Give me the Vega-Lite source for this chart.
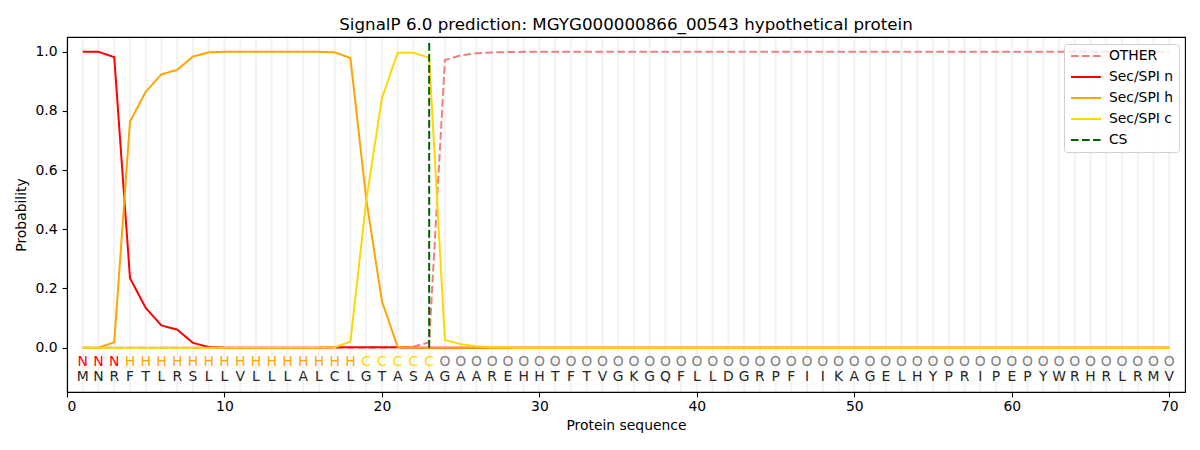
{
  "$schema": "https://vega.github.io/schema/vega-lite/v6.json",
  "autosize": "none",
  "width": 1118,
  "height": 355,
  "padding": {"left": 67, "top": 37, "right": 15, "bottom": 58},
  "background": "white",
  "title": {
    "text": "SignalP 6.0 prediction: MGYG000000866_00543 hypothetical protein",
    "font": "DejaVu Sans",
    "fontSize": 16.7,
    "fontWeight": "normal",
    "color": "black",
    "anchor": "middle",
    "offset": 3
  },
  "data": {
    "values": [
      {"pos": 1, "aa": "M", "lab": "N", "OTHER": 0, "Sec/SPI n": 1.0, "Sec/SPI h": 0, "Sec/SPI c": 0},
      {"pos": 2, "aa": "N", "lab": "N", "OTHER": 0, "Sec/SPI n": 1.0, "Sec/SPI h": 0, "Sec/SPI c": 0},
      {"pos": 3, "aa": "R", "lab": "N", "OTHER": 0, "Sec/SPI n": 0.982, "Sec/SPI h": 0.018, "Sec/SPI c": 0},
      {"pos": 4, "aa": "F", "lab": "H", "OTHER": 0, "Sec/SPI n": 0.235, "Sec/SPI h": 0.764, "Sec/SPI c": 0},
      {"pos": 5, "aa": "T", "lab": "H", "OTHER": 0, "Sec/SPI n": 0.134, "Sec/SPI h": 0.865, "Sec/SPI c": 0},
      {"pos": 6, "aa": "L", "lab": "H", "OTHER": 0, "Sec/SPI n": 0.075, "Sec/SPI h": 0.924, "Sec/SPI c": 0},
      {"pos": 7, "aa": "R", "lab": "H", "OTHER": 0, "Sec/SPI n": 0.061, "Sec/SPI h": 0.939, "Sec/SPI c": 0},
      {"pos": 8, "aa": "S", "lab": "H", "OTHER": 0, "Sec/SPI n": 0.016, "Sec/SPI h": 0.984, "Sec/SPI c": 0},
      {"pos": 9, "aa": "L", "lab": "H", "OTHER": 0, "Sec/SPI n": 0.002, "Sec/SPI h": 0.998, "Sec/SPI c": 0},
      {"pos": 10, "aa": "L", "lab": "H", "OTHER": 0, "Sec/SPI n": 0, "Sec/SPI h": 1.0, "Sec/SPI c": 0},
      {"pos": 11, "aa": "V", "lab": "H", "OTHER": 0, "Sec/SPI n": 0, "Sec/SPI h": 1.0, "Sec/SPI c": 0},
      {"pos": 12, "aa": "L", "lab": "H", "OTHER": 0, "Sec/SPI n": 0, "Sec/SPI h": 1.0, "Sec/SPI c": 0},
      {"pos": 13, "aa": "L", "lab": "H", "OTHER": 0, "Sec/SPI n": 0, "Sec/SPI h": 1.0, "Sec/SPI c": 0},
      {"pos": 14, "aa": "L", "lab": "H", "OTHER": 0, "Sec/SPI n": 0, "Sec/SPI h": 1.0, "Sec/SPI c": 0},
      {"pos": 15, "aa": "A", "lab": "H", "OTHER": 0, "Sec/SPI n": 0, "Sec/SPI h": 1.0, "Sec/SPI c": 0},
      {"pos": 16, "aa": "L", "lab": "H", "OTHER": 0, "Sec/SPI n": 0, "Sec/SPI h": 1.0, "Sec/SPI c": 0},
      {"pos": 17, "aa": "C", "lab": "H", "OTHER": 0, "Sec/SPI n": 0.001, "Sec/SPI h": 0.998, "Sec/SPI c": 0.001},
      {"pos": 18, "aa": "L", "lab": "H", "OTHER": 0, "Sec/SPI n": 0.001, "Sec/SPI h": 0.979, "Sec/SPI c": 0.02},
      {"pos": 19, "aa": "G", "lab": "C", "OTHER": 0, "Sec/SPI n": 0.001, "Sec/SPI h": 0.503, "Sec/SPI c": 0.495},
      {"pos": 20, "aa": "T", "lab": "C", "OTHER": 0, "Sec/SPI n": 0.001, "Sec/SPI h": 0.157, "Sec/SPI c": 0.843},
      {"pos": 21, "aa": "A", "lab": "C", "OTHER": 0.001, "Sec/SPI n": 0.001, "Sec/SPI h": 0.002, "Sec/SPI c": 0.997},
      {"pos": 22, "aa": "S", "lab": "C", "OTHER": 0.003, "Sec/SPI n": 0, "Sec/SPI h": 0, "Sec/SPI c": 0.997},
      {"pos": 23, "aa": "A", "lab": "C", "OTHER": 0.018, "Sec/SPI n": 0, "Sec/SPI h": 0, "Sec/SPI c": 0.98},
      {"pos": 24, "aa": "G", "lab": "O", "OTHER": 0.972, "Sec/SPI n": 0, "Sec/SPI h": 0, "Sec/SPI c": 0.026},
      {"pos": 25, "aa": "A", "lab": "O", "OTHER": 0.988, "Sec/SPI n": 0, "Sec/SPI h": 0, "Sec/SPI c": 0.012},
      {"pos": 26, "aa": "A", "lab": "O", "OTHER": 0.995, "Sec/SPI n": 0, "Sec/SPI h": 0, "Sec/SPI c": 0.004},
      {"pos": 27, "aa": "R", "lab": "O", "OTHER": 0.998, "Sec/SPI n": 0, "Sec/SPI h": 0, "Sec/SPI c": 0.001},
      {"pos": 28, "aa": "E", "lab": "O", "OTHER": 0.999, "Sec/SPI n": 0, "Sec/SPI h": 0, "Sec/SPI c": 0},
      {"pos": 29, "aa": "H", "lab": "O", "OTHER": 1.0, "Sec/SPI n": 0, "Sec/SPI h": 0, "Sec/SPI c": 0},
      {"pos": 30, "aa": "H", "lab": "O", "OTHER": 1.0, "Sec/SPI n": 0, "Sec/SPI h": 0, "Sec/SPI c": 0},
      {"pos": 31, "aa": "T", "lab": "O", "OTHER": 1.0, "Sec/SPI n": 0, "Sec/SPI h": 0, "Sec/SPI c": 0},
      {"pos": 32, "aa": "F", "lab": "O", "OTHER": 1.0, "Sec/SPI n": 0, "Sec/SPI h": 0, "Sec/SPI c": 0},
      {"pos": 33, "aa": "T", "lab": "O", "OTHER": 1.0, "Sec/SPI n": 0, "Sec/SPI h": 0, "Sec/SPI c": 0},
      {"pos": 34, "aa": "V", "lab": "O", "OTHER": 1.0, "Sec/SPI n": 0, "Sec/SPI h": 0, "Sec/SPI c": 0},
      {"pos": 35, "aa": "G", "lab": "O", "OTHER": 1.0, "Sec/SPI n": 0, "Sec/SPI h": 0, "Sec/SPI c": 0},
      {"pos": 36, "aa": "K", "lab": "O", "OTHER": 1.0, "Sec/SPI n": 0, "Sec/SPI h": 0, "Sec/SPI c": 0},
      {"pos": 37, "aa": "G", "lab": "O", "OTHER": 1.0, "Sec/SPI n": 0, "Sec/SPI h": 0, "Sec/SPI c": 0},
      {"pos": 38, "aa": "Q", "lab": "O", "OTHER": 1.0, "Sec/SPI n": 0, "Sec/SPI h": 0, "Sec/SPI c": 0},
      {"pos": 39, "aa": "F", "lab": "O", "OTHER": 1.0, "Sec/SPI n": 0, "Sec/SPI h": 0, "Sec/SPI c": 0},
      {"pos": 40, "aa": "L", "lab": "O", "OTHER": 1.0, "Sec/SPI n": 0, "Sec/SPI h": 0, "Sec/SPI c": 0},
      {"pos": 41, "aa": "L", "lab": "O", "OTHER": 1.0, "Sec/SPI n": 0, "Sec/SPI h": 0, "Sec/SPI c": 0},
      {"pos": 42, "aa": "D", "lab": "O", "OTHER": 1.0, "Sec/SPI n": 0, "Sec/SPI h": 0, "Sec/SPI c": 0},
      {"pos": 43, "aa": "G", "lab": "O", "OTHER": 1.0, "Sec/SPI n": 0, "Sec/SPI h": 0, "Sec/SPI c": 0},
      {"pos": 44, "aa": "R", "lab": "O", "OTHER": 1.0, "Sec/SPI n": 0, "Sec/SPI h": 0, "Sec/SPI c": 0},
      {"pos": 45, "aa": "P", "lab": "O", "OTHER": 1.0, "Sec/SPI n": 0, "Sec/SPI h": 0, "Sec/SPI c": 0},
      {"pos": 46, "aa": "F", "lab": "O", "OTHER": 1.0, "Sec/SPI n": 0, "Sec/SPI h": 0, "Sec/SPI c": 0},
      {"pos": 47, "aa": "I", "lab": "O", "OTHER": 1.0, "Sec/SPI n": 0, "Sec/SPI h": 0, "Sec/SPI c": 0},
      {"pos": 48, "aa": "I", "lab": "O", "OTHER": 1.0, "Sec/SPI n": 0, "Sec/SPI h": 0, "Sec/SPI c": 0},
      {"pos": 49, "aa": "K", "lab": "O", "OTHER": 1.0, "Sec/SPI n": 0, "Sec/SPI h": 0, "Sec/SPI c": 0},
      {"pos": 50, "aa": "A", "lab": "O", "OTHER": 1.0, "Sec/SPI n": 0, "Sec/SPI h": 0, "Sec/SPI c": 0},
      {"pos": 51, "aa": "G", "lab": "O", "OTHER": 1.0, "Sec/SPI n": 0, "Sec/SPI h": 0, "Sec/SPI c": 0},
      {"pos": 52, "aa": "E", "lab": "O", "OTHER": 1.0, "Sec/SPI n": 0, "Sec/SPI h": 0, "Sec/SPI c": 0},
      {"pos": 53, "aa": "L", "lab": "O", "OTHER": 1.0, "Sec/SPI n": 0, "Sec/SPI h": 0, "Sec/SPI c": 0},
      {"pos": 54, "aa": "H", "lab": "O", "OTHER": 1.0, "Sec/SPI n": 0, "Sec/SPI h": 0, "Sec/SPI c": 0},
      {"pos": 55, "aa": "Y", "lab": "O", "OTHER": 1.0, "Sec/SPI n": 0, "Sec/SPI h": 0, "Sec/SPI c": 0},
      {"pos": 56, "aa": "P", "lab": "O", "OTHER": 1.0, "Sec/SPI n": 0, "Sec/SPI h": 0, "Sec/SPI c": 0},
      {"pos": 57, "aa": "R", "lab": "O", "OTHER": 1.0, "Sec/SPI n": 0, "Sec/SPI h": 0, "Sec/SPI c": 0},
      {"pos": 58, "aa": "I", "lab": "O", "OTHER": 1.0, "Sec/SPI n": 0, "Sec/SPI h": 0, "Sec/SPI c": 0},
      {"pos": 59, "aa": "P", "lab": "O", "OTHER": 1.0, "Sec/SPI n": 0, "Sec/SPI h": 0, "Sec/SPI c": 0},
      {"pos": 60, "aa": "E", "lab": "O", "OTHER": 1.0, "Sec/SPI n": 0, "Sec/SPI h": 0, "Sec/SPI c": 0},
      {"pos": 61, "aa": "P", "lab": "O", "OTHER": 1.0, "Sec/SPI n": 0, "Sec/SPI h": 0, "Sec/SPI c": 0},
      {"pos": 62, "aa": "Y", "lab": "O", "OTHER": 1.0, "Sec/SPI n": 0, "Sec/SPI h": 0, "Sec/SPI c": 0},
      {"pos": 63, "aa": "W", "lab": "O", "OTHER": 1.0, "Sec/SPI n": 0, "Sec/SPI h": 0, "Sec/SPI c": 0},
      {"pos": 64, "aa": "R", "lab": "O", "OTHER": 1.0, "Sec/SPI n": 0, "Sec/SPI h": 0, "Sec/SPI c": 0},
      {"pos": 65, "aa": "H", "lab": "O", "OTHER": 1.0, "Sec/SPI n": 0, "Sec/SPI h": 0, "Sec/SPI c": 0},
      {"pos": 66, "aa": "R", "lab": "O", "OTHER": 1.0, "Sec/SPI n": 0, "Sec/SPI h": 0, "Sec/SPI c": 0},
      {"pos": 67, "aa": "L", "lab": "O", "OTHER": 1.0, "Sec/SPI n": 0, "Sec/SPI h": 0, "Sec/SPI c": 0},
      {"pos": 68, "aa": "R", "lab": "O", "OTHER": 1.0, "Sec/SPI n": 0, "Sec/SPI h": 0, "Sec/SPI c": 0},
      {"pos": 69, "aa": "M", "lab": "O", "OTHER": 1.0, "Sec/SPI n": 0, "Sec/SPI h": 0, "Sec/SPI c": 0},
      {"pos": 70, "aa": "V", "lab": "O", "OTHER": 1.0, "Sec/SPI n": 0, "Sec/SPI h": 0, "Sec/SPI c": 0}
    ]
  },
  "encoding": {
    "x": {
      "field": "pos",
      "type": "quantitative",
      "scale": {"domain": [0, 71], "nice": false, "zero": false},
      "axis": {"values": [0, 10, 20, 30, 40, 50, 60, 70], "title": "Protein sequence", "grid": false, "format": "d"}
    }
  },
  "layer": [
    {
      "mark": {"type": "rule", "color": "#f2f2f2", "strokeWidth": 2},
      "encoding": {
        "y": {"datum": -0.147, "type": "quantitative"},
        "y2": {"datum": 1.047}
      }
    },
    {
      "transform": [{"fold": ["OTHER", "Sec/SPI n", "Sec/SPI h", "Sec/SPI c"], "as": ["series", "p"]}],
      "mark": {"type": "line", "strokeWidth": 2},
      "encoding": {
        "y": {
          "field": "p",
          "type": "quantitative",
          "scale": {"domain": [-0.15, 1.05], "nice": false, "zero": false},
          "axis": {"values": [0, 0.2, 0.4, 0.6, 0.8, 1.0], "format": ".1f", "title": "Probability", "grid": false}
        },
        "color": {
          "field": "series",
          "type": "nominal",
          "scale": {
            "domain": ["OTHER", "Sec/SPI n", "Sec/SPI h", "Sec/SPI c", "CS"],
            "range": ["#f08080", "#ff0000", "#ffa500", "#ffd700", "#006400"]
          },
          "legend": {
            "title": null,
            "orient": "none",
            "legendX": 997,
            "legendY": 7,
            "symbolType": "M-1,0H5",
            "symbolSize": 100,
            "symbolStrokeWidth": 2,
            "labelOffset": 26,
            "rowPadding": 6,
            "padding": 5,
            "labelFont": "DejaVu Sans",
            "labelFontSize": 13.9,
            "labelColor": "black",
            "strokeColor": "#d0d0d0",
            "fillColor": "rgba(255,255,255,0.8)",
            "cornerRadius": 3
          }
        },
        "strokeDash": {
          "field": "series",
          "type": "nominal",
          "scale": {
            "domain": ["OTHER", "Sec/SPI n", "Sec/SPI h", "Sec/SPI c", "CS"],
            "range": [[7.7, 3.3], [1, 0], [1, 0], [1, 0], [7.7, 3.3]]
          },
          "legend": null
        }
      }
    },
    {
      "data": {"values": [{"pos": 23, "series": "CS", "lo": 0, "hi": 1.035}]},
      "mark": {"type": "rule", "strokeWidth": 2},
      "encoding": {
        "y": {"field": "lo", "type": "quantitative"},
        "y2": {"field": "hi"},
        "color": {"field": "series", "type": "nominal"},
        "strokeDash": {"field": "series", "type": "nominal"}
      }
    },
    {
      "mark": {"type": "text", "font": "DejaVu Sans", "fontSize": 13.9, "baseline": "middle", "align": "center"},
      "encoding": {
        "y": {"datum": -0.05, "type": "quantitative"},
        "text": {"field": "lab"},
        "color": {
          "condition": [
            {"test": "datum.lab === 'N'", "value": "#ff0000"},
            {"test": "datum.lab === 'H'", "value": "#ffa500"},
            {"test": "datum.lab === 'C'", "value": "#ffd700"}
          ],
          "value": "#808080"
        }
      }
    },
    {
      "mark": {"type": "text", "font": "DejaVu Sans", "fontSize": 13.9, "baseline": "middle", "align": "center", "color": "#262626"},
      "encoding": {
        "y": {"datum": -0.1, "type": "quantitative"},
        "text": {"field": "aa"}
      }
    }
  ],
  "config": {
    "view": {"stroke": "black", "strokeWidth": 1.1},
    "axis": {
      "labelFont": "DejaVu Sans",
      "labelFontSize": 13.9,
      "labelColor": "black",
      "titleFont": "DejaVu Sans",
      "titleFontSize": 13.9,
      "titleFontWeight": "normal",
      "titleColor": "black",
      "domainColor": "black",
      "domainWidth": 1.1,
      "tickColor": "black",
      "tickWidth": 1.1,
      "tickSize": 4.9,
      "labelPadding": 3
    },
    "axisX": {"titlePadding": 5},
    "axisY": {"titlePadding": 7, "labelPadding": 5}
  }
}
